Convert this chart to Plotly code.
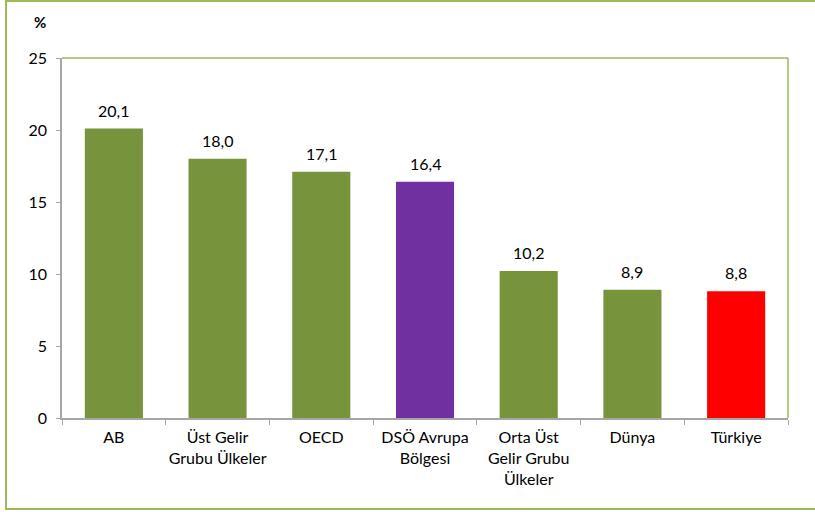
import plotly.graph_objects as go

# data
categories = ["AB", "Üst Gelir<br>Grubu Ülkeler", "OECD", "DSÖ Avrupa<br>Bölgesi",
              "Orta Üst<br>Gelir Grubu<br>Ülkeler", "Dünya", "Türkiye"]
values = [20.1, 18.0, 17.1, 16.4, 10.2, 8.9, 8.8]
bar_colors = ["#77933C", "#77933C", "#77933C", "#7030A0", "#77933C", "#77933C", "#FF0000"]
labels = [f"{v:.1f}".replace(".", ",") for v in values]

W, H = 815, 512
L, R, T, B = 62, 27, 58, 94
pw, ph = W - L - R, H - T - B

def px(x):
    return (x - L) / pw

def py(y):
    return (H - B - y) / ph

fig = go.Figure()
fig.add_trace(go.Bar(
    x=categories, y=values,
    marker=dict(color=bar_colors, line=dict(width=0)),
    width=0.56,
    hoverinfo="skip",
))

# value labels a little above each bar
for c, v, t in zip(categories, values, labels):
    fig.add_annotation(x=c, y=v, text=t, showarrow=False, yanchor="bottom",
                       yshift=7, font=dict(size=16, color="#000000"))

olive = "#9BBB59"
# outer frame
fig.add_shape(type="rect", xref="paper", yref="paper",
              x0=px(6), x1=px(830), y0=py(509), y1=py(1),
              line=dict(color=olive, width=2))
# top and right border of the plot area
fig.add_shape(type="line", xref="paper", yref="paper", x0=0, x1=1, y0=1, y1=1,
              line=dict(color=olive, width=1.5))
fig.add_shape(type="line", xref="paper", yref="paper", x0=1, x1=1, y0=0, y1=1,
              line=dict(color=olive, width=1.5))

fig.add_annotation(text="<b>%</b>", xref="paper", yref="paper",
                   x=px(40), y=py(22), xanchor="center", yanchor="middle",
                   showarrow=False, font=dict(size=15, color="#000000"))

fig.update_layout(
    width=W, height=H,
    margin=dict(l=L, r=R, t=T, b=B, autoexpand=False),
    plot_bgcolor="white", paper_bgcolor="white",
    font=dict(family="Lato, Noto Sans, sans-serif", size=16, color="#000000"),
    showlegend=False,
    bargap=0.44,
    xaxis=dict(showline=True, linecolor="#A6A6A6", linewidth=1.5,
               ticks="outside", tickson="boundaries", ticklen=5, tickangle=0,
               automargin=False, tickcolor="#A6A6A6", tickfont=dict(size=16),
               showgrid=False, ticklabelstandoff=4),
    yaxis=dict(range=[0, 25], dtick=5, showline=True, linecolor="#A6A6A6",
               linewidth=1.5, ticks="outside", ticklen=4, tickcolor="#A6A6A6",
               automargin=False, showgrid=False, zeroline=False,
               tickfont=dict(size=16), ticklabelstandoff=6),
)

fig.write_html("out.html", config={"displayModeBar": False},
               post_script="document.body.style.margin='0';")
